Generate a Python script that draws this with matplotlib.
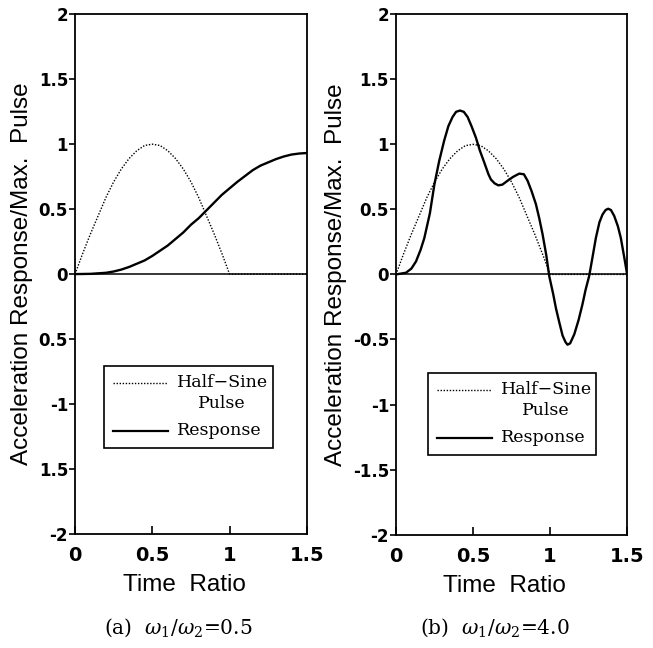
import numpy as np
import matplotlib.pyplot as plt
from matplotlib.patches import Rectangle

plt.rcParams['mathtext.fontset'] = 'dejavuserif'

# half-sine pulse (same for both panels)
t_pulse = [0, 0.05, 0.1, 0.15, 0.2, 0.25, 0.3, 0.35, 0.4, 0.45, 0.5,
           0.55, 0.6, 0.65, 0.7, 0.75, 0.8, 0.85, 0.9, 0.95, 1.0, 1.5]
pulse = [0, 0.16, 0.31, 0.45, 0.59, 0.71, 0.81, 0.89, 0.95, 0.99, 1.0,
         0.99, 0.95, 0.89, 0.81, 0.71, 0.59, 0.45, 0.31, 0.16, 0.0, 0.0]

# response, w1/w2 = 0.5
t_resp_a = [0, 0.1, 0.2, 0.25, 0.3, 0.35, 0.4, 0.45, 0.5, 0.55, 0.6, 0.65,
            0.7, 0.75, 0.8, 0.85, 0.9, 0.95, 1.0, 1.05, 1.1, 1.15, 1.2,
            1.25, 1.3, 1.35, 1.4, 1.45, 1.5]
resp_a = [0, 0.002, 0.01, 0.02, 0.035, 0.055, 0.08, 0.105, 0.14, 0.18,
          0.22, 0.27, 0.32, 0.38, 0.43, 0.49, 0.55, 0.61, 0.66, 0.71,
          0.755, 0.80, 0.835, 0.86, 0.885, 0.905, 0.92, 0.928, 0.932]

# response, w1/w2 = 4.0
t_resp_b = [0, 0.065, 0.1, 0.13, 0.16, 0.184, 0.22, 0.249, 0.28, 0.313,
            0.34, 0.367, 0.39, 0.415, 0.44, 0.465, 0.49, 0.519, 0.545,
            0.573, 0.6, 0.616, 0.64, 0.664, 0.69, 0.724, 0.76, 0.80, 0.83,
            0.854, 0.88, 0.908, 0.93, 0.951, 0.975, 0.994, 1.02, 1.038,
            1.06, 1.081, 1.1, 1.113, 1.13, 1.157, 1.185, 1.21, 1.23, 1.254,
            1.275, 1.297, 1.32, 1.34, 1.36, 1.377, 1.395, 1.416, 1.44,
            1.459, 1.48, 1.5]
resp_b = [0, 0.013, 0.045, 0.10, 0.19, 0.28, 0.47, 0.69, 0.87, 1.03,
          1.14, 1.21, 1.25, 1.26, 1.25, 1.21, 1.14, 1.05, 0.95,
          0.86, 0.77, 0.73, 0.70, 0.685, 0.69, 0.72, 0.75, 0.775, 0.77,
          0.72, 0.64, 0.54, 0.43, 0.31, 0.15, -0.01, -0.15, -0.26,
          -0.37, -0.47, -0.52, -0.54, -0.53, -0.46, -0.35, -0.23, -0.12,
          -0.01, 0.13, 0.28, 0.40, 0.46, 0.495, 0.505, 0.495, 0.45, 0.37,
          0.28, 0.14, 0.0]

xticks = [0, 0.5, 1, 1.5]
xtick_labels = ['0', '0.5', '1', '1.5']
yticks = [2, 1.5, 1, 0.5, 0, -0.5, -1, -1.5, -2]
ytick_labels_a = ['2', '1.5', '1', '0.5', '0', '0.5', '-1', '1.5', '-2']
ytick_labels_b = ['2', '1.5', '1', '0.5', '0', '-0.5', '-1', '-1.5', '-2']
captions = [r'(a)  $\omega_1/\omega_2$=0.5', r'(b)  $\omega_1/\omega_2$=4.0']


def draw_legend(ax, x0, y0):
    # hand-made legend box, like the original figure
    ax.add_patch(Rectangle((x0, y0 - 0.625), 1.09, 0.625, fill=False,
                           lw=1.2, color='black', zorder=5))
    ax.plot([x0 + 0.055, x0 + 0.41], [y0 - 0.125, y0 - 0.125], color='black',
            lw=1.0, linestyle=(0, (1, 1.2)), zorder=5)
    ax.plot([x0 + 0.055, x0 + 0.41], [y0 - 0.495, y0 - 0.495], color='black',
            lw=1.6, zorder=5)
    serif = dict(family='DejaVu Serif', fontsize=12.5, va='center', ha='left',
                 zorder=6)
    ax.text(x0 + 0.47, y0 - 0.125, 'Half\u2212Sine', **serif)
    ax.text(x0 + 0.605, y0 - 0.285, 'Pulse', **serif)
    ax.text(x0 + 0.47, y0 - 0.495, 'Response', **serif)


fig = plt.figure(figsize=(6.53, 6.48), dpi=100)
ax_a = fig.add_axes([0.1149, 0.176, 0.355, 0.802])
ax_b = fig.add_axes([0.6064, 0.175, 0.354, 0.803])

panels = [(ax_a, t_resp_a, resp_a, ytick_labels_a, -0.181, 0.19, -0.71),
          (ax_b, t_resp_b, resp_b, ytick_labels_b, -0.212, 0.21, -0.76)]

for ax, tr, r, ylabs, lab_x, lx, ly in panels:
    ax.plot(t_pulse, pulse, color='black', lw=1.0, linestyle=(0, (1, 1.2)))
    ax.plot(tr, r, color='black', lw=1.7)
    ax.axhline(0, color='black', lw=1.1)
    ax.set_xlim(0, 1.5)
    ax.set_ylim(-2, 2)
    ax.set_xticks(xticks)
    ax.set_xticklabels(xtick_labels, fontsize=14, fontweight='bold')
    ax.set_yticks(yticks)
    ax.set_yticklabels(ylabs, fontsize=12, fontweight='bold')
    ax.tick_params(axis='x', direction='in', length=6, width=1.2, pad=9)
    ax.tick_params(axis='y', direction='out', length=4, width=1.2, pad=1)
    for s in ax.spines.values():
        s.set_linewidth(1.3)
    ax.set_ylabel('Acceleration Response/Max.  Pulse', family='Liberation Sans',
                  fontsize=17.5)
    ax.yaxis.set_label_coords(lab_x, 0.5)
    ax.set_xlabel('Time  Ratio', family='Liberation Sans', fontsize=17.5)
    ax.xaxis.set_label_coords(0.47, -0.078)
    draw_legend(ax, lx, ly)

fig.text(178 / 653, 1 - 628 / 648, captions[0], family='DejaVu Serif',
         fontsize=14.5, ha='center', va='center')
fig.text(495 / 653, 1 - 628 / 648, captions[1], family='DejaVu Serif',
         fontsize=14.5, ha='center', va='center')

fig.savefig('out.png', dpi=100)
